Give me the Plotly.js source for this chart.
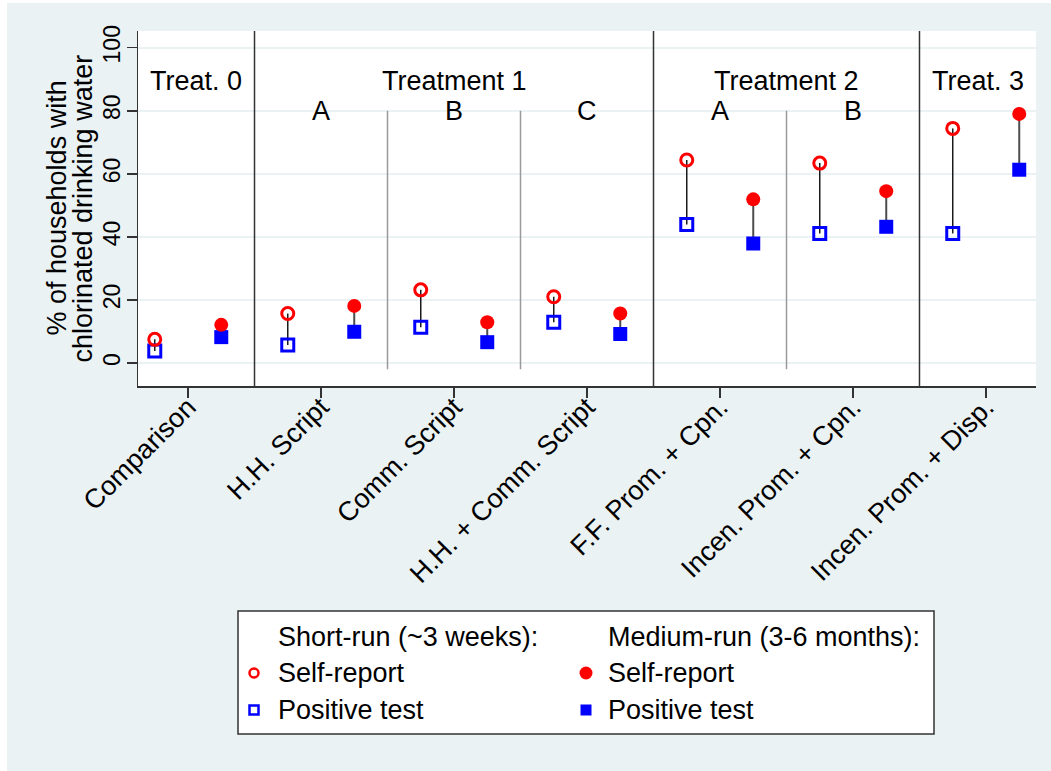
<!DOCTYPE html>
<html>
<head>
<meta charset="utf-8">
<script src="https://cdn.plot.ly/plotly-3.0.1.min.js"></script>
<style>html,body{margin:0;padding:0;background:#fff;}#chart{width:1051px;height:771px;}</style>
</head>
<body>
<div id="chart"></div>
<script>
// ---- Data ----
const categories = ["Comparison", "H.H. Script", "Comm. Script", "H.H. + Comm. Script",
                    "F.F. Prom. + Cpn.", "Incen. Prom. + Cpn.", "Incen. Prom. + Disp."];
const shortSelfReport    = [7.5, 15.7, 23.2, 21.0, 64.4, 63.4, 74.4];
const shortPositiveTest  = [3.8,  5.7, 11.3, 12.9, 43.9, 41.1, 41.1];
const mediumSelfReport   = [12.1, 18.1, 12.9, 15.7, 51.9, 54.5, 79.0];
const mediumPositiveTest = [8.2,  9.9,  6.6,  9.2, 37.9, 43.2, 61.3];

const groupNames = ["Treat. 0", "Treatment 1", "Treatment 2", "Treat. 3"];
const groupSizes = [1, 3, 2, 1];
const subLabels  = [[], ["A", "B", "C"], ["A", "B"], []];

const yTickVals = [0, 20, 40, 60, 80, 100];
const yTitleLines = ["% of households with", "chlorinated drinking water"];
const legendHeaders = ["Short-run (~3 weeks):", "Medium-run (3-6 months):"];
const legendItems = ["Self-report", "Positive test"];

// ---- Styling / layout constants ----
const FONT = "Liberation Sans, Arial, Helvetica, sans-serif";
const RED = "#FF0000", BLUE = "#0000FF", BG = "#EAF2F3";
const FS = 27;
const OFF = 0.25;            // offset of short/medium points from category centre
const XPAD = 0.376;
const xRange = [1 - XPAD, categories.length + XPAD];
const yRange = [-7.3, 105.3];

const idx = categories.map((_, i) => i + 1);
const xShort = idx.map(v => v - OFF);
const xMed = idx.map(v => v + OFF);

function connector(xs, a, b) {
  const X = [], Y = [];
  xs.forEach((x, i) => { X.push(x, x, null); Y.push(a[i], b[i], null); });
  return {X, Y};
}
const cS = connector(xShort, shortSelfReport, shortPositiveTest);
const cM = connector(xMed, mediumSelfReport, mediumPositiveTest);

const traces = [
  {x: cS.X, y: cS.Y, mode: "lines", line: {color: "#1a1a1a", width: 1.5}, hoverinfo: "skip", showlegend: false},
  {x: cM.X, y: cM.Y, mode: "lines", line: {color: "#4d4d4d", width: 2}, hoverinfo: "skip", showlegend: false},
  {x: xShort, y: shortPositiveTest, mode: "markers", name: "Short-run positive test", showlegend: false,
   marker: {symbol: "square-open", size: 12, color: BLUE, line: {color: BLUE, width: 3}}},
  {x: xShort, y: shortSelfReport, mode: "markers", name: "Short-run self-report", showlegend: false,
   marker: {symbol: "circle-open", size: 12, color: RED, line: {color: RED, width: 3}}},
  {x: xMed, y: mediumPositiveTest, mode: "markers", name: "Medium-run positive test", showlegend: false,
   marker: {symbol: "square", size: 14, color: BLUE}},
  {x: xMed, y: mediumSelfReport, mode: "markers", name: "Medium-run self-report", showlegend: false,
   marker: {symbol: "circle", size: 14, color: RED}}
];

// ---- Group separators and labels ----
const shapes = [];
const annotations = [];
let start = 1;
groupSizes.forEach((n, g) => {
  const end = start + n - 1;
  if (end < categories.length) {
    shapes.push({type: "line", xref: "x", yref: "paper", x0: end + 0.5, x1: end + 0.5, y0: 0, y1: 1,
                 line: {color: "#333333", width: 1.5}, layer: "above"});
  }
  const lo = Math.max(start - 0.5, xRange[0]);
  const hi = Math.min(end + 0.5, xRange[1]);
  annotations.push({x: (lo + hi) / 2, y: 89.5, xref: "x", yref: "y", text: groupNames[g], showarrow: false,
                    font: {family: FONT, size: FS, color: "#000"}});
  subLabels[g].forEach((s, k) => {
    const c = start + k;
    annotations.push({x: c, y: 80, xref: "x", yref: "y", text: s, showarrow: false,
                      font: {family: FONT, size: FS, color: "#000"}});
    if (k > 0) {
      shapes.push({type: "line", xref: "x", yref: "y", x0: c - 0.5, x1: c - 0.5, y0: -2, y1: 80,
                   line: {color: "#9a9a9a", width: 1.5}, layer: "above"});
    }
  });
  start = end + 1;
});

// ---- Pixel helpers for things outside the plot area ----
const M = {l: 138, r: 15, t: 31, b: 385};
const W = 1051, H = 771;
const PW = W - M.l - M.r, PH = H - M.t - M.b;
const px = v => (v - M.l) / PW;
const py = v => (H - M.b - v) / PH;

// white frame strips (left & top) of the outer region
shapes.push({type: "rect", xref: "paper", yref: "paper", x0: px(0), x1: px(7), y0: py(H), y1: py(0),
             fillcolor: "#fff", line: {width: 0}, layer: "below"});
shapes.push({type: "rect", xref: "paper", yref: "paper", x0: px(0), x1: px(W), y0: py(3), y1: py(0),
             fillcolor: "#fff", line: {width: 0}, layer: "below"});

// y-axis title (two lines, rotated)
[56, 82].forEach((cx, i) => {
  annotations.push({xref: "paper", yref: "paper", x: px(cx), y: 0.5, text: yTitleLines[i], textangle: -90,
                    showarrow: false, xanchor: "center", yanchor: "middle",
                    font: {family: FONT, size: 27, color: "#000"}});
});

// ---- Legend box ----
shapes.push({type: "rect", xref: "paper", yref: "paper", x0: px(238), x1: px(934), y0: py(734), y1: py(611),
             fillcolor: "#fff", line: {color: "#333", width: 1.5}, layer: "above"});
const colX = [254, 586], textX = [276, 606], rowY = [637, 673, 710];
legendHeaders.forEach((t, c) => {
  annotations.push({xref: "paper", yref: "paper", x: px(textX[c]), y: py(rowY[0]), text: t, showarrow: false,
                    xanchor: "left", yanchor: "middle", font: {family: FONT, size: FS, color: "#000"}});
  legendItems.forEach((it, r) => {
    annotations.push({xref: "paper", yref: "paper", x: px(textX[c]), y: py(rowY[r + 1]), text: it, showarrow: false,
                      xanchor: "left", yanchor: "middle", font: {family: FONT, size: FS, color: "#000"}});
  });
});
function mark(type, cx, cy, half, fill, color, lw) {
  shapes.push({type: type, xref: "paper", yref: "paper", xsizemode: "pixel", ysizemode: "pixel",
               xanchor: px(cx), yanchor: py(cy), x0: -half, x1: half, y0: -half, y1: half,
               fillcolor: fill, line: {color: color, width: lw}, layer: "above"});
}
mark("circle", colX[0], rowY[1], 4.5, "rgba(0,0,0,0)", RED, 2.5);
mark("rect", colX[0], rowY[2], 4.5, "rgba(0,0,0,0)", BLUE, 2.5);
mark("circle", colX[1], rowY[1], 6.5, RED, RED, 0);
mark("rect", colX[1], rowY[2], 5.5, BLUE, BLUE, 0);

const layout = {
  width: W, height: H,
  margin: M,
  paper_bgcolor: BG,
  plot_bgcolor: "#FFFFFF",
  font: {family: FONT, color: "#000"},
  showlegend: false,
  xaxis: {
    range: xRange, tickmode: "array", tickvals: idx, ticktext: categories, tickangle: -45,
    ticks: "outside", ticklen: 10, tickwidth: 1.5, tickcolor: "#333",
    showline: true, linecolor: "#333", linewidth: 1.5, showgrid: false, zeroline: false,
    tickfont: {family: FONT, size: FS, color: "#000"}, ticklabelstandoff: -17, fixedrange: true
  },
  yaxis: {
    range: yRange, tickmode: "array", tickvals: yTickVals, tickangle: -90,
    ticks: "outside", ticklen: 10, tickwidth: 1.5, tickcolor: "#333",
    showline: true, linecolor: "#333", linewidth: 1.5,
    showgrid: true, gridcolor: BG, gridwidth: 2, zeroline: false,
    tickfont: {family: FONT, size: 23, color: "#000"}, ticklabelstandoff: -3, fixedrange: true
  },
  shapes: shapes,
  annotations: annotations
};

Plotly.newPlot("chart", traces, layout, {displayModeBar: false, staticPlot: true});
</script>
</body>
</html>
